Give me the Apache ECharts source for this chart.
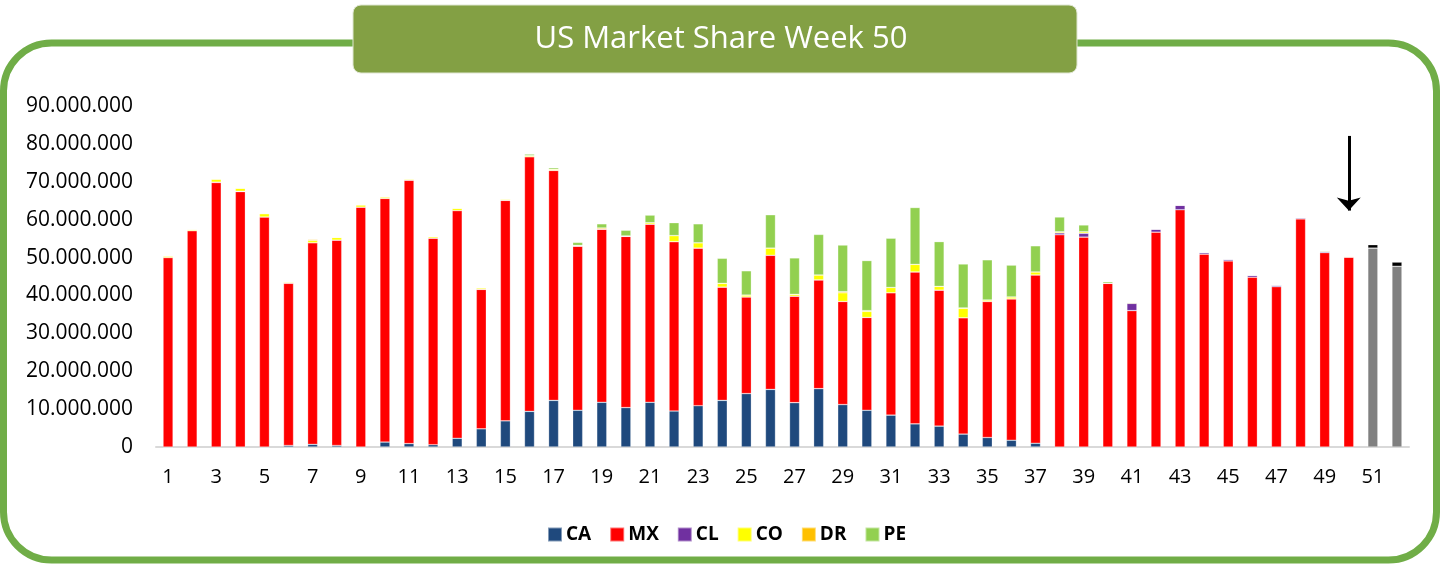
<!DOCTYPE html>
<html>
<head>
<meta charset="utf-8">
<title>US Market Share Week 50</title>
<script src="https://cdn.jsdelivr.net/npm/echarts@6/dist/echarts.min.js"></script>
<style>
  html, body { margin: 0; padding: 0; background: #fff; }
  #chart { width: 1442px; height: 565px; }
</style>
</head>
<body>
<div id="chart"></div>
<script>
  // weeks 1..52, values in millions
  var weeks = [];
  for (var w = 1; w <= 52; w++) weeks.push(String(w));

  var yTicks = [0, 10, 20, 30, 40, 50, 60, 70, 80, 90];

  var caData = [0, 0, 0, 0, 0, 0.4, 0.7, 0.4, 0, 1.3, 0.9, 0.6, 2.3, 4.8, 6.9, 9.4, 12.3, 9.7, 11.8, 10.4,
    11.8, 9.5, 10.9, 12.3, 14.1, 15.2, 11.7, 15.4, 11.2, 9.7, 8.4, 6.1, 5.5, 3.4, 2.5, 1.8, 1.0, 0, 0, 0,
    0, 0, 0, 0, 0, 0, 0, 0, 0, 0, null, null];
  var mxData = [50.0, 57.1, 69.8, 67.4, 60.7, 42.8, 53.2, 54.2, 63.3, 64.3, 69.5, 54.5, 60.1, 36.8, 58.2, 67.2, 60.7, 43.3, 45.7, 45.2,
    47.0, 44.7, 41.6, 29.9, 25.5, 35.4, 28.1, 28.7, 27.2, 24.5, 32.3, 40.1, 35.9, 30.7, 35.9, 37.3, 44.4, 56.0, 55.4, 43.2,
    36.0, 56.7, 62.6, 50.9, 49.1, 44.8, 42.3, 60.2, 51.3, 50.1, null, null];
  var clData = [0, 0, 0.1, 0.1, 0, 0, 0, 0, 0, 0, 0, 0, 0, 0, 0, 0, 0, 0, 0, 0,
    0, 0, 0, 0, 0, 0, 0, 0, 0, 0, 0, 0, 0, 0, 0, 0, 0, 0.5, 1.0, 0,
    1.9, 0.8, 1.2, 0.4, 0.4, 0.5, 0.4, 0.3, 0.3, 0, null, null];
  var coData = [0.4, 0.3, 0.8, 0.8, 0.9, 0.3, 0.6, 0.7, 0.6, 0.4, 0.3, 0.4, 0.6, 0.4, 0.3, 0.3, 0.3, 0.1, 0, 0,
    0.4, 1.6, 1.4, 1.0, 0.5, 1.9, 0.5, 1.3, 2.3, 1.6, 1.4, 2.0, 1.0, 2.5, 0.4, 0.5, 0.8, 0.3, 0.4, 0,
    0.2, 0, 0, 0, 0.1, 0, 0, 0, 0.2, 0.2, null, null];
  var drData = [0, 0, 0, 0, 0, 0, 0.3, 0, 0, 0, 0, 0, 0, 0, 0, 0, 0, 0.1, 0.3, 0.1,
    0, 0, 0, 0, 0, 0, 0, 0, 0.3, 0.2, 0, 0, 0, 0.1, 0, 0, 0, 0, 0, 0,
    0.1, 0, 0, 0.1, 0, 0, 0, 0, 0, 0, null, null];
  var peData = [0, 0, 0, 0, 0, 0, 0, 0, 0, 0, 0, 0, 0, 0, 0.1, 0.4, 0.4, 0.8, 1.1, 1.5,
    2.0, 3.4, 5.0, 6.6, 6.4, 8.8, 9.6, 10.7, 12.3, 13.2, 13.0, 15.0, 11.8, 11.6, 10.6, 8.4, 6.9, 3.9, 1.8, 0.4,
    0, 0, 0, 0, 0, 0, 0, 0, 0, 0, null, null];
  // weeks 51-52 (grey bars with black cap)
  var restData = [];
  var capData = [];
  for (var i = 0; i < 50; i++) { restData.push(null); capData.push(null); }
  restData.push(52.5, 47.7);
  capData.push(0.9, 1.1);

  var arrowWeek = '50';
  var arrowFrom = 82.1;
  var arrowTo = 62.4;

  var fontFam = '"Open Sans", "Noto Sans", sans-serif';

  function fmtMil(v) {
    var n = Math.round(v * 1000000);
    return String(n).replace(/\B(?=(\d{3})+(?!\d))/g, '.');
  }

  function barSeries(name, color, data) {
    return {
      name: name,
      type: 'bar',
      stack: 'total',
      barWidth: 10,
      itemStyle: {
        color: color,
        borderColor: 'rgba(255,255,255,0.45)',
        borderWidth: 0.6
      },
      data: data
    };
  }

  var series = [
    barSeries('CA', '#1f497d', caData),
    barSeries('MX', '#ff0000', mxData),
    barSeries('CL', '#7030a0', clData),
    barSeries('CO', '#ffff00', coData),
    barSeries('DR', '#ffc000', drData),
    barSeries('PE', '#92d050', peData),
    barSeries('Forecast', '#808080', restData),
    barSeries('Top', '#000000', capData)
  ];
  // arrow pointing at current week
  series[1].markLine = {
    silent: true,
    symbol: ['none', 'arrow'],
    symbolSize: [18, 13],
    label: { show: false },
    lineStyle: { color: '#000', width: 3, type: 'solid' },
    data: [[{ coord: [arrowWeek, arrowFrom] }, { coord: [arrowWeek, arrowTo] }]]
  };

  var option = {
    animation: false,
    backgroundColor: '#fff',
    textStyle: { fontFamily: fontFam },
    graphic: [
      {
        type: 'rect',
        z: 0,
        shape: { x: 3.5, y: 43, width: 1433, height: 517, r: 48 },
        style: { fill: 'none', stroke: '#70ad47', lineWidth: 7 }
      },
      {
        type: 'rect',
        z: 1,
        shape: { x: 353, y: 5, width: 724, height: 68, r: 8 },
        style: { fill: '#83a044', stroke: '#dfe6d2', lineWidth: 1 }
      }
    ],
    title: {
      text: 'US Market Share Week 50',
      left: 716,
      top: 19,
      textAlign: 'center',
      z: 10,
      textStyle: { color: '#fff', fontSize: 31, fontWeight: 'normal', fontFamily: fontFam }
    },
    legend: {
      data: ['CA', 'MX', 'CL', 'CO', 'DR', 'PE'],
      left: 542,
      top: 520,
      itemWidth: 14,
      itemHeight: 14,
      itemGap: 18,
      icon: 'rect',
      textStyle: { fontSize: 19, fontWeight: 'bold', color: '#000', padding: [0, 0, 0, -1] }
    },
    grid: { left: 156, right: 33, top: 106, bottom: 118 },
    xAxis: {
      type: 'category',
      data: weeks,
      axisLine: { lineStyle: { color: '#d9d9d9', width: 2 } },
      axisTick: { show: false },
      axisLabel: { interval: 1, color: '#000', fontSize: 20, margin: 20 }
    },
    yAxis: {
      type: 'value',
      min: yTicks[0],
      max: yTicks[yTicks.length - 1],
      interval: 10,
      splitLine: { show: false },
      axisLine: { show: false },
      axisTick: { show: false },
      axisLabel: { color: '#000', fontSize: 21, margin: 23, formatter: fmtMil }
    },
    series: series
  };

  var myChart = echarts.init(document.getElementById('chart'));
  myChart.setOption(option);
</script>
</body>
</html>
